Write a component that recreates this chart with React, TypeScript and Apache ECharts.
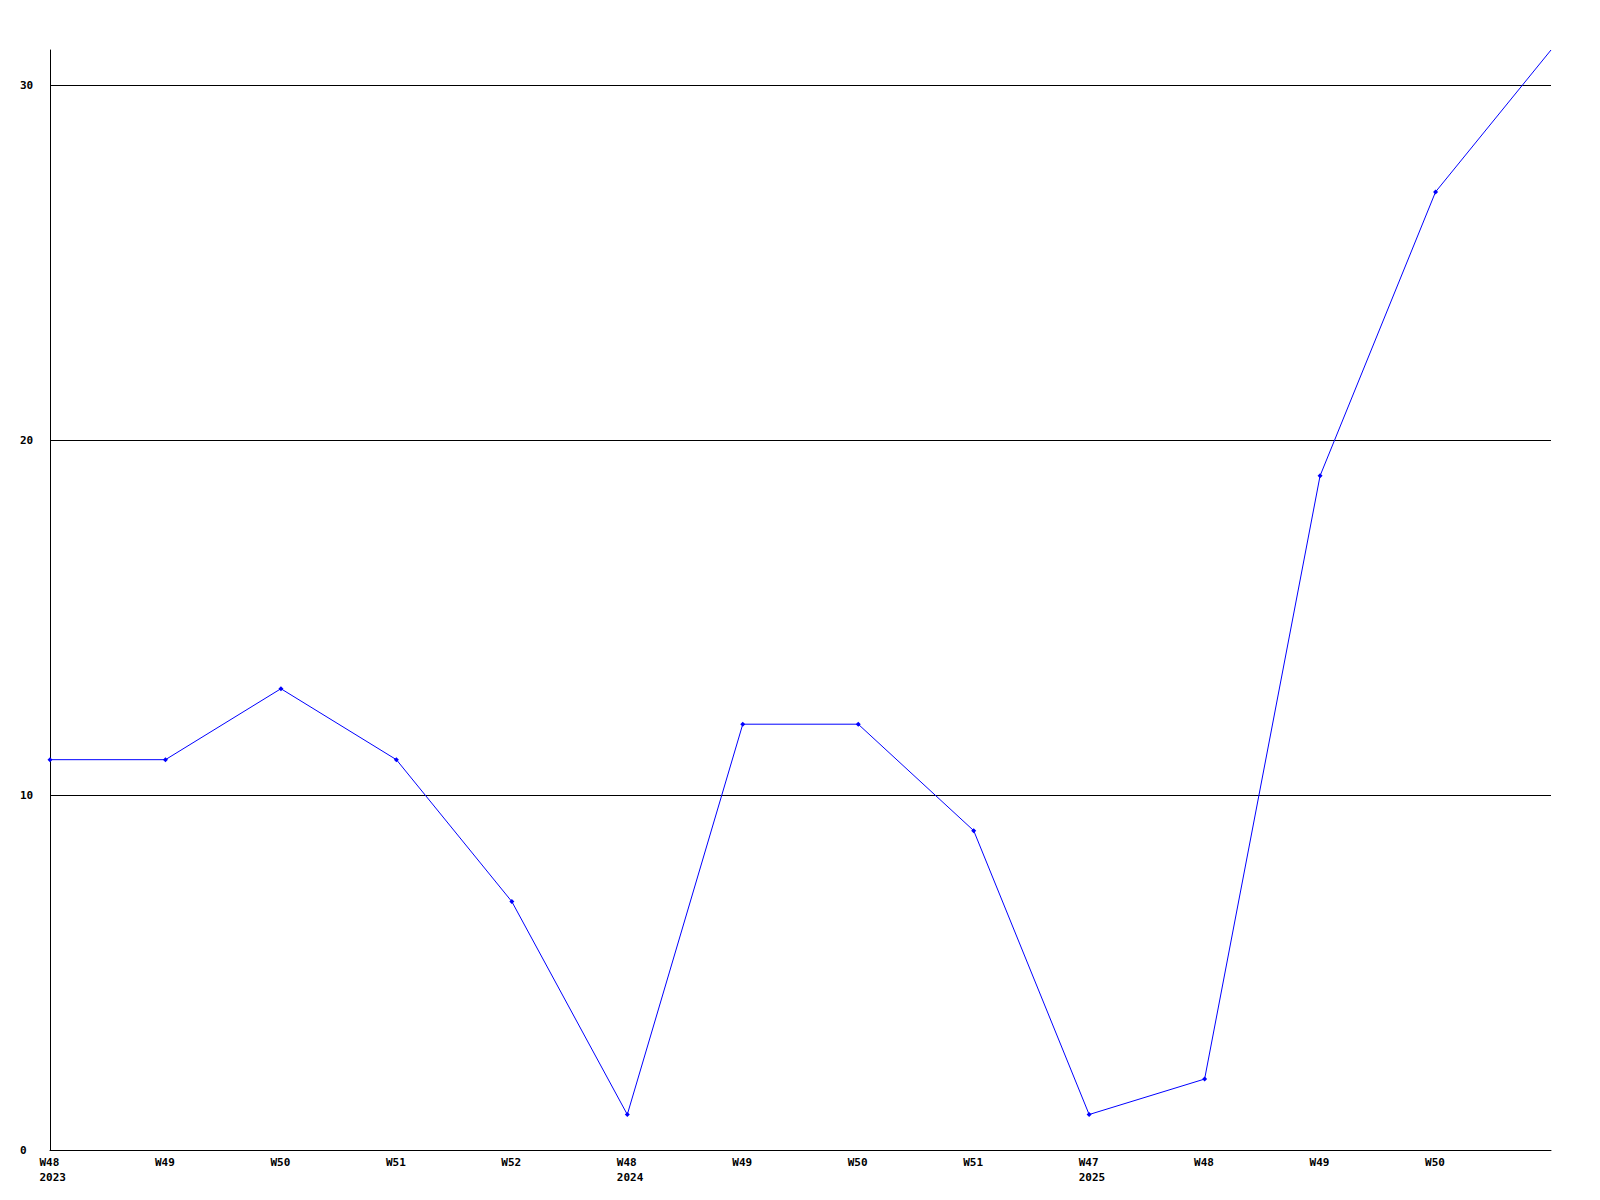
import React, { useEffect, useRef } from "react";
import * as echarts from "echarts";

const weeks = ["W48", "W49", "W50", "W51", "W52", "W48", "W49", "W50", "W51", "W47", "W48", "W49", "W50", ""];
const years = ["2023", "", "", "", "", "2024", "", "", "", "2025", "", "", "", ""];
const values = [11, 11, 13, 11, 7, 1, 12, 12, 9, 1, 2, 19, 27, 31];
const yTicks = { min: 0, max: 31, interval: 10 };

export default function App() {
  const ref = useRef<HTMLDivElement>(null);
  useEffect(() => {
    if (!ref.current) return;
    const chart = echarts.init(ref.current, undefined, { renderer: "svg" });
    const cats = weeks.map((w, i) => (years[i] ? `${w}\n${years[i]}` : w));
    const font = "'DejaVu Sans Mono', monospace";
    const seriesData = values.map((v, i) =>
      i === values.length - 1 ? { value: v, symbol: "none" } : v
    );
    chart.setOption({
      animation: false,
      backgroundColor: "#ffffff",
      grid: { left: 50, top: 50, right: 49, bottom: 50, containLabel: false },
      xAxis: {
        type: "category",
        data: cats,
        boundaryGap: false,
        axisLine: { lineStyle: { color: "#000", width: 1 } },
        axisTick: { show: false },
        splitLine: { show: false },
        axisLabel: {
          interval: 0,
          margin: 5,
          formatter: (v: string) =>
            v
              .split("\n")
              .filter((s) => s)
              .map((s) => `{t|${s}}`)
              .join("\n"),
          rich: {
            t: {
              width: 21,
              align: "left",
              fontFamily: font,
              fontWeight: "bold",
              fontSize: 11,
              lineHeight: 15,
              color: "#000",
            },
          },
        },
      },
      yAxis: {
        type: "value",
        min: yTicks.min,
        max: yTicks.max,
        interval: yTicks.interval,
        axisLine: { show: true, lineStyle: { color: "#000", width: 1 } },
        axisTick: { show: false },
        splitLine: {
          show: true,
          showMaxLine: false,
          showMinLine: false,
          lineStyle: { color: "#000", width: 1 },
        },
        axisLabel: {
          showMaxLabel: false,
          align: "left",
          margin: 30,
          fontFamily: font,
          fontWeight: "bold",
          fontSize: 11,
          color: "#000",
        },
      },
      series: [
        {
          type: "line",
          data: seriesData,
          symbol: "diamond",
          symbolSize: 5,
          showSymbol: true,
          lineStyle: { color: "#0000ff", width: 1 },
          itemStyle: { color: "#0000ff" },
          clip: true,
        },
      ],
    });
    return () => chart.dispose();
  }, []);
  return (
    <div
      ref={ref}
      style={{ position: "fixed", left: 0, top: 0, width: 1600, height: 1200, background: "#fff" }}
    />
  );
}
